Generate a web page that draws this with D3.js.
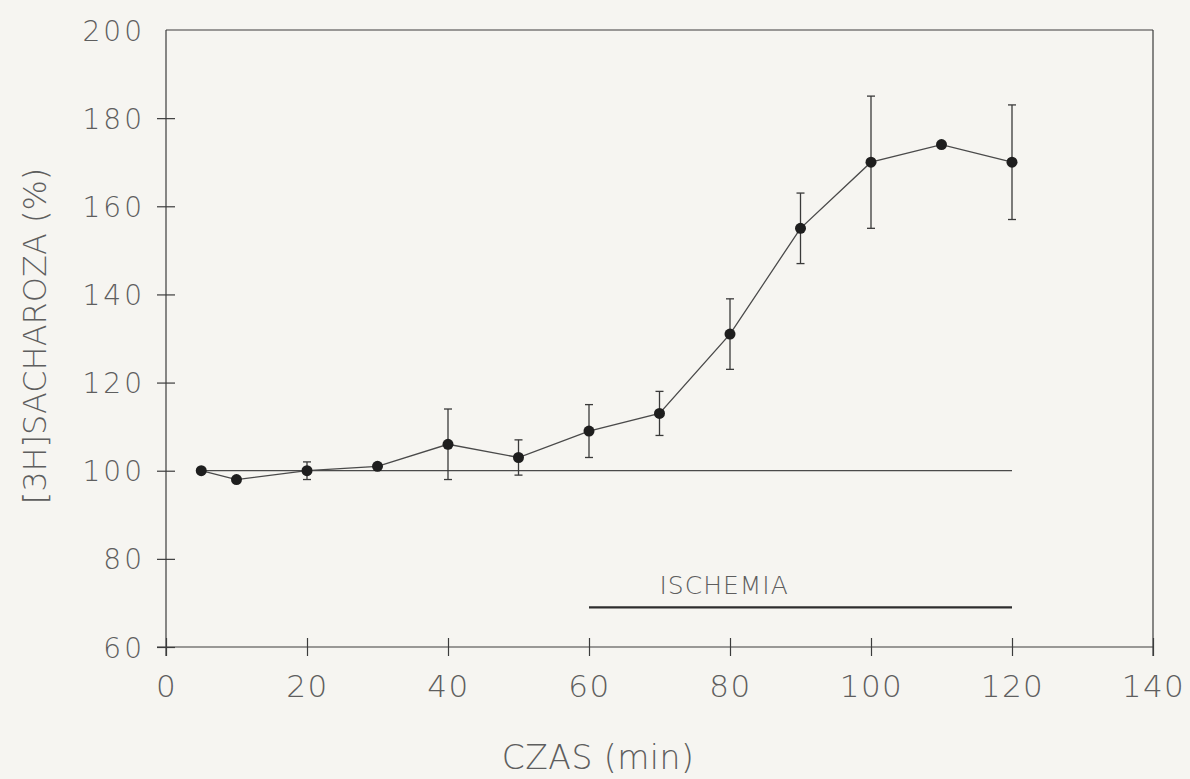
<!DOCTYPE html>
<html>
<head>
<meta charset="utf-8">
<script src="https://cdn.jsdelivr.net/npm/d3@7"></script>
<style>
  html, body { margin: 0; padding: 0; background: #f6f5f1; }
  svg { display: block; }
  .lbl { font-family: "DejaVu Sans", "Liberation Sans", sans-serif; font-weight: 200; fill: #5e5e5e; }
</style>
</head>
<body>
<svg id="chart" width="1190" height="779"></svg>
<script>
// Time after start of perfusion (min)
const times = [5, 10, 20, 30, 40, 50, 60, 70, 80, 90, 100, 110, 120];
// [3H]sucrose content, % of initial value
const sucrose = [100, 98, 100, 101, 106, 103, 109, 113, 131, 155, 170, 174, 170];
// Standard error of the mean (0 = bar hidden by the marker)
const sem = [0, 0, 2, 0, 8, 4, 6, 5, 8, 8, 15, 0, 13];

const xTicks = [0, 20, 40, 60, 80, 100, 120, 140];
const yTicks = [60, 80, 100, 120, 140, 160, 180, 200];

// Reference level and ischemia period
const baselineLevel = 100;
const baselineSpan = [5, 120];
const ischemiaSpan = [60, 120];
const ischemiaLevel = 69;
const ischemiaLabel = "ISCHEMIA";
const ischemiaLabelAt = 70;

const xTitle = "CZAS (min)";
const yTitle = "[3H]SACHAROZA (%)";

const svg = d3.select("#chart");
const ink = "#3c3c3c";
const tick = 9;

const x = d3.scaleLinear().domain([0, 140]).range([166, 1153]);
const y = d3.scaleLinear().domain([60, 200]).range([647, 30]);

// Frame: left and bottom axes plus top and right border
const frame = svg.append("g").attr("stroke", ink).attr("stroke-width", 1.2).attr("fill", "none");
frame.append("line").attr("x1", x(0)).attr("x2", x(0)).attr("y1", y(200)).attr("y2", y(60) + tick);
frame.append("line").attr("x1", x(0) - tick).attr("x2", x(140)).attr("y1", y(60)).attr("y2", y(60));
frame.append("line").attr("x1", x(0)).attr("x2", x(140)).attr("y1", y(200)).attr("y2", y(200));
frame.append("line").attr("x1", x(140)).attr("x2", x(140)).attr("y1", y(200)).attr("y2", y(60) + tick);

// Y axis
const yAxis = svg.append("g")
  .attr("transform", `translate(${x(0)},0)`)
  .call(d3.axisLeft(y).tickValues(yTicks).tickSize(tick).tickPadding(14));
yAxis.select(".domain").remove();
yAxis.selectAll(".tick line").attr("x1", tick).attr("x2", -tick)
  .attr("stroke", ink).attr("stroke-width", 1.2);
yAxis.selectAll(".tick line").filter(d => d === 200).remove();
yAxis.selectAll(".tick text").attr("class", "lbl")
  .attr("x", -21).attr("font-size", 28).attr("letter-spacing", 3).attr("dy", "0.36em");

// X axis
const xAxis = svg.append("g")
  .attr("transform", `translate(0,${y(60)})`)
  .call(d3.axisBottom(x).tickValues(xTicks).tickSize(tick));
xAxis.select(".domain").remove();
xAxis.selectAll(".tick line").attr("y1", -tick).attr("y2", tick)
  .attr("stroke", ink).attr("stroke-width", 1.2);
xAxis.selectAll(".tick text").attr("class", "lbl")
  .attr("y", 50).attr("dy", 0).attr("font-size", 31).attr("letter-spacing", 1.5);

// Axis titles
svg.append("text").attr("class", "lbl")
  .attr("x", 598).attr("y", 769).attr("text-anchor", "middle")
  .attr("font-size", 33).attr("letter-spacing", 0.5)
  .text(xTitle);

svg.append("text").attr("class", "lbl")
  .attr("transform", "translate(46,336) rotate(-90)")
  .attr("text-anchor", "middle").attr("font-size", 32)
  .text(yTitle);

// 100% reference line
svg.append("line")
  .attr("x1", x(baselineSpan[0])).attr("x2", x(baselineSpan[1]))
  .attr("y1", y(baselineLevel)).attr("y2", y(baselineLevel))
  .attr("stroke", "#4a4a4a").attr("stroke-width", 1.2);

// Ischemia period bar and label
svg.append("line")
  .attr("x1", x(ischemiaSpan[0])).attr("x2", x(ischemiaSpan[1]))
  .attr("y1", y(ischemiaLevel)).attr("y2", y(ischemiaLevel))
  .attr("stroke", "#2e2e2e").attr("stroke-width", 2.4);
svg.append("text").attr("class", "lbl")
  .attr("x", x(ischemiaLabelAt)).attr("y", y(ischemiaLevel) - 13)
  .attr("font-size", 25).attr("letter-spacing", 1)
  .text(ischemiaLabel);

// Data series
const data = times.map((t, i) => ({ t, v: sucrose[i], e: sem[i] }));

const bars = svg.append("g").attr("stroke", "#3a3a3a").attr("stroke-width", 1.3);
data.filter(d => d.e > 0).forEach(d => {
  const cx = x(d.t);
  bars.append("line").attr("x1", cx).attr("x2", cx).attr("y1", y(d.v + d.e)).attr("y2", y(d.v - d.e));
  bars.append("line").attr("x1", cx - 4).attr("x2", cx + 4).attr("y1", y(d.v + d.e)).attr("y2", y(d.v + d.e));
  bars.append("line").attr("x1", cx - 4).attr("x2", cx + 4).attr("y1", y(d.v - d.e)).attr("y2", y(d.v - d.e));
});

svg.append("path")
  .datum(data)
  .attr("fill", "none").attr("stroke", "#4a4a4a").attr("stroke-width", 1.3)
  .attr("d", d3.line().x(d => x(d.t)).y(d => y(d.v)));

svg.append("g").selectAll("circle").data(data).join("circle")
  .attr("cx", d => x(d.t)).attr("cy", d => y(d.v)).attr("r", 5.5)
  .attr("fill", "#1e1e1e");
</script>
</body>
</html>
